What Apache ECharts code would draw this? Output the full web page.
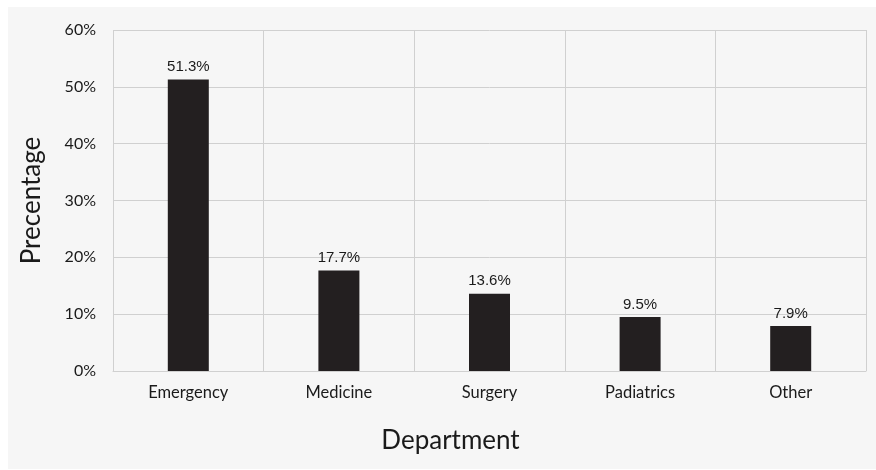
<!DOCTYPE html>
<html><head><meta charset="utf-8">
<script src="https://cdn.jsdelivr.net/npm/echarts@6/dist/echarts.min.js"></script>
<style>html,body{margin:0;padding:0;background:#fff}#c{width:876px;height:470px}</style>
</head><body><div id="c"></div>
<script>
const categories = ['Emergency', 'Medicine', 'Surgery', 'Padiatrics', 'Other'];
const values = [51.3, 17.7, 13.6, 9.5, 7.9];
const yTicks = [0, 10, 20, 30, 40, 50, 60];

const chart = echarts.init(document.getElementById('c'));
chart.setOption({
  backgroundColor: '#ffffff',
  animation: false,
  graphic: [{ type: 'rect', shape: { x: 8, y: 7, width: 868, height: 462 }, style: { fill: '#f6f6f6' }, z: -10 }],
  grid: { left: 113, right: 10, top: 30, bottom: 99 },
  xAxis: {
    type: 'category', data: categories, boundaryGap: true,
    name: 'Department', nameLocation: 'middle', nameGap: 57,
    nameTextStyle: { fontFamily: 'Lato', fontSize: 26, color: '#1a1a1a', padding: [0, 78, 0, 0] },
    axisLine: { show: true, lineStyle: { color: '#d0d0d0' } },
    axisTick: { show: false },
    axisLabel: { fontFamily: 'Lato', fontSize: 16.5, color: '#1a1a1a', margin: 13 },
    splitLine: { show: true, lineStyle: { color: '#d0d0d0' } }
  },
  yAxis: {
    type: 'value', min: yTicks[0], max: yTicks[yTicks.length - 1], interval: 10,
    name: 'Precentage', nameLocation: 'middle', nameGap: 68,
    nameTextStyle: { fontFamily: 'Lato', fontSize: 26, color: '#1a1a1a' },
    axisLine: { show: false }, axisTick: { show: false },
    axisLabel: { fontFamily: 'Lato', fontSize: 16, color: '#1a1a1a', margin: 17, formatter: '{value}%' },
    splitLine: { show: true, lineStyle: { color: '#d0d0d0' } }
  },
  series: [{
    type: 'bar', data: values, barWidth: 41,
    itemStyle: { color: '#231f20' },
    label: { show: true, position: 'top', distance: 5, formatter: p => p.value.toFixed(1) + '%',
      fontFamily: 'Liberation Sans', fontSize: 15, color: '#1a1a1a' }
  }]
});
</script></body></html>
